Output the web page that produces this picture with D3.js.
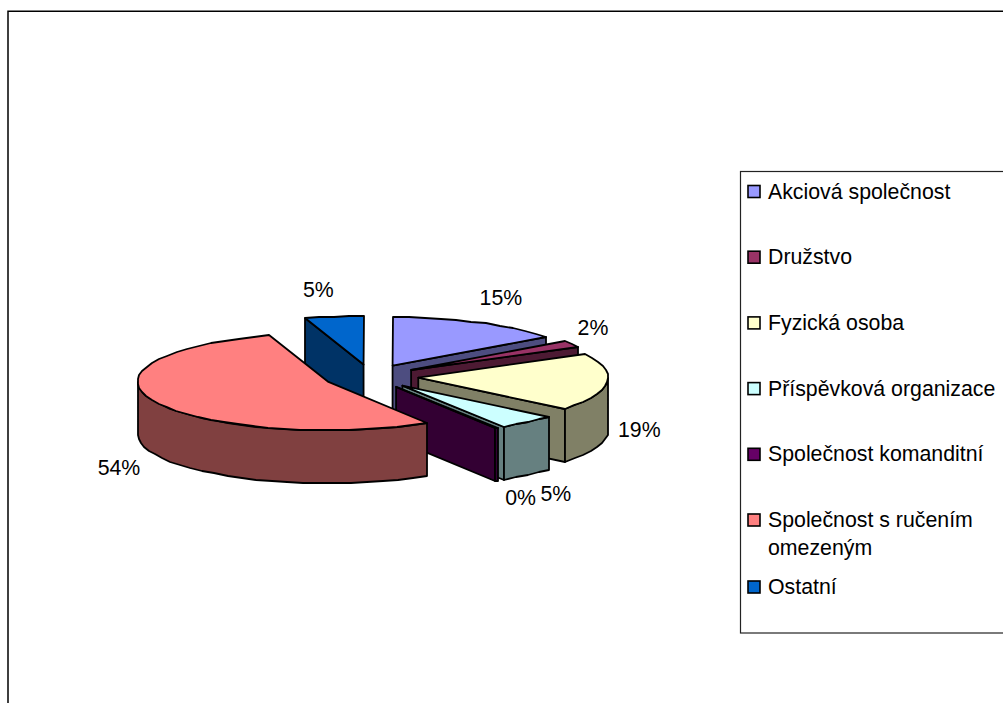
<!DOCTYPE html>
<html lang="cs">

<head>
    <meta charset="UTF-8">
    <title>Právní forma</title>
    <script src="https://d3js.org/d3.v7.min.js"></script>
    <style>
        body,
        html {
            margin: 0;
            padding: 0;
            background: #fff;
            font-family: "Liberation Sans", Arial, sans-serif;
        }

        svg {
            display: block;
        }

        .frame {
            fill: none;
            stroke: #000;
            stroke-width: 1.5;
        }

        .legend-box {
            fill: none;
            stroke: #222;
            stroke-width: 1.2;
        }

        .face {
            stroke: #000;
            stroke-width: 1.8;
            stroke-linejoin: round;
        }

        .label,
        .legend-text {
            font-size: 21.3px;
            fill: #000;
        }

        .swatch {
            stroke: #000;
            stroke-width: 1.6;
        }
    </style>
</head>

<body>
    <svg width="1003" height="703" id="chart"></svg>

    <script>
        const categories = [
            "Akciová společnost",
            "Družstvo",
            "Fyzická osoba",
            "Příspěvková organizace",
            "Společnost komanditní",
            "Společnost s ručením omezeným",
            "Ostatní"
        ];
        const shares = [15, 2, 19, 5, 0.3, 53.7, 5];
        const colors = ["#9999ff", "#993366", "#ffffcc", "#ccffff", "#660066", "#ff8080", "#0066cc"];

        // back to front, slices are simply painted over each other
        const paintOrder = [6, 0, 1, 2, 3, 4, 5];

        // pie geometry
        const cx = 371, cy = 376.5;
        const rx = 190, ry = 48.5;
        const depth = 53;
        const explode = 0.25;
        const labelRx = 232, labelRy = 76;
        // small hand corrections of the radial label placing
        const labelNudge = [[3, 0], [-14, -2], [-10, -8], [0, -2], [2, -7], [2, 1], [-9, 0]];

        const svg = d3.select("#chart");

        // chart frame runs off the right and bottom of the picture
        svg.append("rect").attr("class", "frame")
            .attr("x", 8).attr("y", 11.25).attr("width", 1100).attr("height", 800);

        const arcs = d3.pie().sort(null).value(d => d)(shares);
        const line = d3.line();

        // screen point on the ellipse, angle clockwise from the top
        function onRim(a, ox, oy) {
            return [Math.round(ox + rx * Math.sin(a)), Math.round(oy - ry * Math.cos(a))];
        }

        function rimPoints(a0, a1, ox, oy) {
            const n = Math.max(1, Math.ceil((a1 - a0) / (5 * Math.PI / 180)));
            return d3.range(n + 1).map(i => onRim(a0 + (a1 - a0) * i / n, ox, oy));
        }

        function drop(points) {
            return points.map(p => [p[0], p[1] + depth]);
        }

        function radialFace(a, ox, oy) {
            const rim = onRim(a, ox, oy);
            const top = [[ox, oy], rim];
            return line(top.concat(drop(top).reverse())) + "Z";
        }

        paintOrder.forEach(i => {
            const d = arcs[i];
            const mid = (d.startAngle + d.endAngle) / 2;
            const ox = cx + explode * rx * Math.sin(mid);
            const oy = cy - explode * ry * Math.cos(mid);
            const c = d3.rgb(colors[i]);
            const sideColor = d3.rgb(c.r / 2, c.g / 2, c.b / 2).formatHex();
            const g = svg.append("g");

            if (Math.sin(d.startAngle) < -1e-6) {
                g.append("path").attr("class", "face").attr("fill", sideColor)
                    .attr("d", radialFace(d.startAngle, ox, oy));
            }
            if (Math.sin(d.endAngle) > 1e-6) {
                g.append("path").attr("class", "face").attr("fill", sideColor)
                    .attr("d", radialFace(d.endAngle, ox, oy));
            }

            // outer wall, only the front half of the rim shows
            const w0 = Math.max(d.startAngle, Math.PI / 2);
            const w1 = Math.min(d.endAngle, 3 * Math.PI / 2);
            if (w1 > w0) {
                const rim = rimPoints(w0, w1, ox, oy);
                g.append("path").attr("class", "face").attr("fill", sideColor)
                    .attr("d", line(rim.concat(drop(rim).reverse())) + "Z");
            }

            g.append("path").attr("class", "face").attr("fill", colors[i])
                .attr("d", line([[ox, oy]].concat(rimPoints(d.startAngle, d.endAngle, ox, oy))) + "Z");
        });

        // percent labels
        arcs.forEach((d, i) => {
            const mid = (d.startAngle + d.endAngle) / 2;
            const ox = cx + explode * rx * Math.sin(mid);
            const oy = cy - explode * ry * Math.cos(mid);
            const lift = Math.cos(mid) < 0 ? depth : 0;
            svg.append("text").attr("class", "label")
                .attr("text-anchor", "middle")
                .attr("x", ox + labelRx * Math.sin(mid) + labelNudge[i][0])
                .attr("y", oy - labelRy * Math.cos(mid) + lift + labelNudge[i][1] + 7.5)
                .text(Math.round(d.data) + "%");
        });

        // legend box, also cut off by the right edge
        svg.append("rect").attr("class", "legend-box")
            .attr("x", 740.5).attr("y", 171.5).attr("width", 400).attr("height", 461.5);

        const legendY = d3.scaleLinear().domain([0, 5]).range([191.5, 520]);
        const rowY = i => i < 6 ? legendY(i) : 587;

        categories.forEach((name, i) => {
            const y = rowY(i);
            svg.append("rect").attr("class", "swatch")
                .attr("x", 748).attr("y", y - 6).attr("width", 12).attr("height", 12)
                .attr("fill", colors[i]);

            // long names wrap after the third word
            const words = name.split(" ");
            const rows = words.length > 3 ? [words.slice(0, 3).join(" "), words.slice(3).join(" ")] : [name];
            const text = svg.append("text").attr("class", "legend-text").attr("x", 768).attr("y", y + 7);
            rows.forEach((row, k) => {
                text.append("tspan").attr("x", 768).attr("dy", k ? 28 : 0).text(row);
            });
        });
    </script>
</body>

</html>
